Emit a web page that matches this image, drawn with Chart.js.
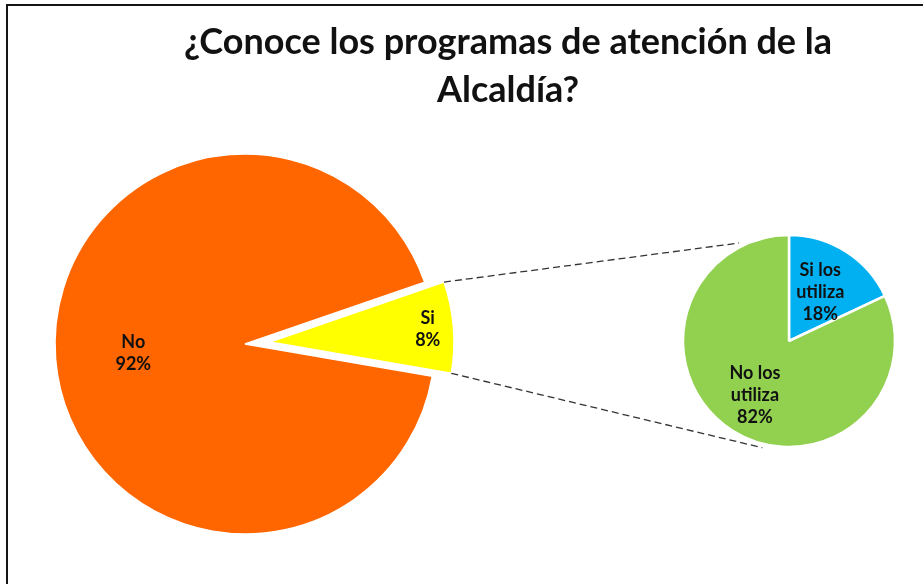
<!DOCTYPE html>
<html>
<head>
<meta charset="utf-8">
<script src="https://cdn.jsdelivr.net/npm/chart.js@4.4.1/dist/chart.umd.min.js"></script>
<style>
  html, body { margin: 0; padding: 0; background: #fff; width: 923px; height: 584px; overflow: hidden; }
  #frame { position: absolute; left: 6px; top: 4px; width: 930px; height: 600px; border-top: 2px solid #151515; border-left: 2px solid #151515; box-sizing: border-box; }
  .wrap { position: absolute; }
  #mainWrap { left: 0; top: 0; width: 923px; height: 584px; }
  #siWrap { left: 25px; top: -2px; width: 923px; height: 584px; }
  #subWrap { left: 663px; top: 215px; width: 252px; height: 252px; }
</style>
</head>
<body>
<div id="frame"></div>
<div id="mainWrap" class="wrap"><canvas id="mainChart" width="923" height="584"></canvas></div>
<div id="siWrap" class="wrap"><canvas id="siChart" width="923" height="584"></canvas></div>
<div id="subWrap" class="wrap"><canvas id="subChart" width="252" height="252"></canvas></div>
<script>
// ---- data ----
const titleLines = ["¿Conoce los programas de atención de la", "Alcaldía?"];
const mainCategories = [["Si"], ["No"]];
const mainValues = [8, 92];
const mainColors = ["#FFFF00", "#FF6600"];
const subCategories = [["Si los", "utiliza"], ["No los", "utiliza"]];
const subValues = [18, 82];
const subColors = ["#00B0F0", "#92D050"];

const LABEL_FONT = "bold 18px Lato, 'Open Sans', sans-serif";
const EXPLODED = 0; // index of the slice pulled out of the main pie

function arcLabelPlugin(fractions) {
  return {
    id: 'arcLabels',
    afterDatasetsDraw(chart) {
      const ctx = chart.ctx;
      const meta = chart.getDatasetMeta(0);
      const ds = chart.data.datasets[0];
      const total = ds.data.reduce((a, b) => a + b, 0);
      ctx.save();
      ctx.font = LABEL_FONT;
      ctx.fillStyle = "#111";
      ctx.textAlign = "center";
      ctx.textBaseline = "middle";
      meta.data.forEach((arc, i) => {
        if (fractions[i] == null) return;
        const p = arc.getProps(['x', 'y', 'startAngle', 'endAngle', 'outerRadius'], true);
        const mid = (p.startAngle + p.endAngle) / 2;
        const r = p.outerRadius * fractions[i];
        const lx = p.x + Math.cos(mid) * r;
        const ly = p.y + Math.sin(mid) * r;
        const lines = [].concat(chart.data.labels[i], Math.round(ds.data[i] / total * 100) + "%");
        const lh = 22;
        lines.forEach((t, k) => {
          ctx.fillText(t, lx, ly + (k - (lines.length - 1) / 2) * lh);
        });
      });
      ctx.restore();
    }
  };
}

const baseOptions = (radius, rotation, padding) => ({
  responsive: false,
  animation: false,
  events: [],
  radius: radius,
  rotation: rotation,
  layout: { padding: padding },
  plugins: { legend: { display: false }, tooltip: { enabled: false }, title: { display: false } }
});

// ---- secondary pie ----
const subChart = new Chart(document.getElementById('subChart'), {
  type: 'pie',
  data: {
    labels: subCategories,
    datasets: [{
      data: subValues,
      backgroundColor: subColors,
      borderColor: '#ffffff',
      borderWidth: 2.5,
      clip: false
    }]
  },
  options: baseOptions(106, 0, 0),
  plugins: [arcLabelPlugin([0.55, 0.6])]
});

// ---- main pie (exploded slice hidden here) ----
const titlePlugin = {
  id: 'customTitle',
  afterDraw(chart) {
    const ctx = chart.ctx;
    ctx.save();
    ctx.font = "bold 36px Lato, 'Open Sans', sans-serif";
    ctx.fillStyle = "#111";
    ctx.textAlign = "center";
    ctx.textBaseline = "alphabetic";
    const baselines = [54, 102];
    titleLines.forEach((t, i) => ctx.fillText(t, 508, baselines[i]));
    ctx.restore();
  }
};

const mainPadding = { left: 45, right: 478, top: 144, bottom: 40 };

const mainChart = new Chart(document.getElementById('mainChart'), {
  type: 'pie',
  data: {
    labels: mainCategories,
    datasets: [{
      data: mainValues,
      backgroundColor: mainColors.map((c, i) => i === EXPLODED ? 'rgba(0,0,0,0)' : c),
      borderColor: mainColors.map((c, i) => i === EXPLODED ? 'rgba(0,0,0,0)' : '#ffffff'),
      borderWidth: 1.5,
      clip: false
    }]
  },
  options: baseOptions(190, 71, mainPadding),
  plugins: [arcLabelPlugin(mainValues.map((v, i) => i === EXPLODED ? null : 0.59)), titlePlugin]
});

// ---- exploded slice, drawn on a shifted layer, plus connector lines ----
const connectorPlugin = {
  id: 'connectors',
  afterDatasetsDraw(chart) {
    const arc = chart.getDatasetMeta(0).data[EXPLODED];
    const p = arc.getProps(['x', 'y', 'startAngle', 'endAngle', 'outerRadius'], true);
    const r = p.outerRadius;
    const a1 = { x: p.x + r * Math.cos(p.startAngle), y: p.y + r * Math.sin(p.startAngle) };
    const a2 = { x: p.x + r * Math.cos(p.endAngle), y: p.y + r * Math.sin(p.endAngle) };

    const myWrap = chart.canvas.parentNode;
    const sm = subChart.getDatasetMeta(0).data[0];
    const sp = sm.getProps(['x', 'y', 'outerRadius'], true);
    const wrap = document.getElementById('subWrap');
    const sx = sp.x + wrap.offsetLeft - myWrap.offsetLeft;
    const sy = sp.y + wrap.offsetTop - myWrap.offsetTop;
    const sr = sp.outerRadius + 4;
    const t1 = -117 * Math.PI / 180, t2 = 104 * Math.PI / 180;
    const b1 = { x: sx + sr * Math.cos(t1), y: sy + sr * Math.sin(t1) };
    const b2 = { x: sx + sr * Math.cos(t2), y: sy + sr * Math.sin(t2) };

    const ctx = chart.ctx;
    ctx.save();
    ctx.strokeStyle = "#333";
    ctx.lineWidth = 1.3;
    ctx.setLineDash([7, 4]);
    ctx.beginPath();
    ctx.moveTo(a1.x, a1.y); ctx.lineTo(b1.x, b1.y);
    ctx.moveTo(a2.x, a2.y); ctx.lineTo(b2.x, b2.y);
    ctx.stroke();
    ctx.restore();
  }
};

const siChart = new Chart(document.getElementById('siChart'), {
  type: 'pie',
  data: {
    labels: mainCategories,
    datasets: [{
      data: mainValues,
      backgroundColor: mainColors.map((c, i) => i === EXPLODED ? c : 'rgba(0,0,0,0)'),
      borderColor: mainColors.map((c, i) => i === EXPLODED ? '#ffffff' : 'rgba(0,0,0,0)'),
      borderWidth: 1.5,
      clip: false
    }]
  },
  options: baseOptions(184, 71, mainPadding),
  plugins: [connectorPlugin, arcLabelPlugin(mainValues.map((v, i) => i === EXPLODED ? 0.86 : null))]
});
</script>
</body>
</html>
